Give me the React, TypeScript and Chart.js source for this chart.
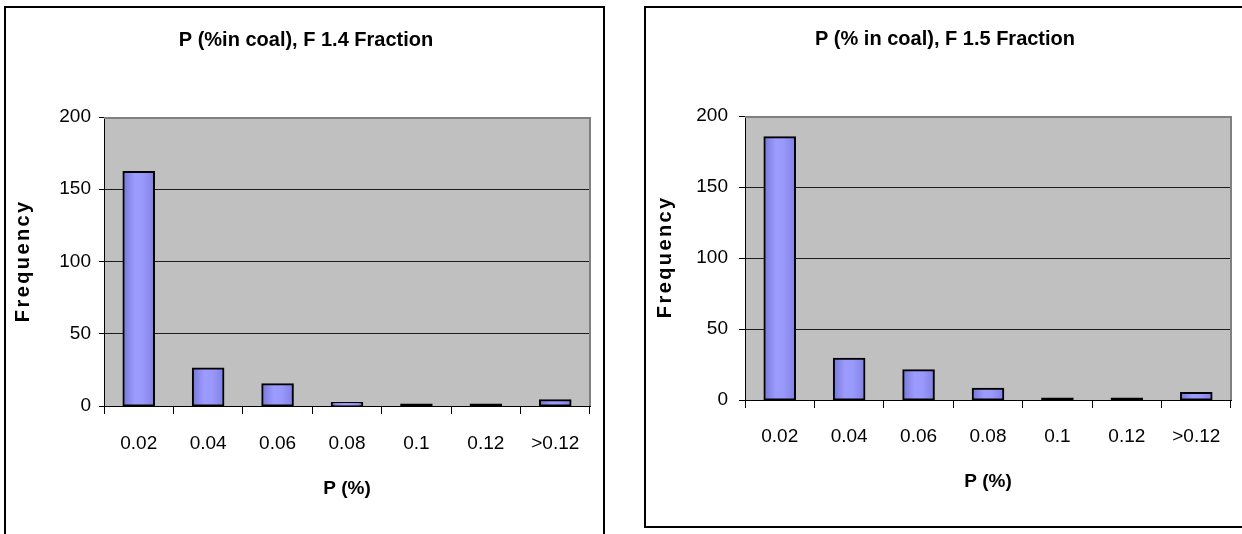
import React, { useEffect, useRef } from 'react';
import { Chart, registerables } from 'chart.js';

Chart.register(...registerables);

// Histogram bins (upper bounds of P %), shared by both fractions
const categories = ['0.02', '0.04', '0.06', '0.08', '0.1', '0.12', '>0.12'];
// Frequency axis ticks
const yTicks = [0, 50, 100, 150, 200];
// Counts per bin
const freqF14 = [162, 26, 15, 2, 1, 1, 4];
const freqF15 = [185, 29, 21, 8, 1, 1, 5];

const titleF14 = 'P (%in coal), F 1.4 Fraction';
const titleF15 = 'P (% in coal), F 1.5 Fraction';
const xTitle = 'P (%)';
const yTitle = 'Frequency';

const FAMILY = "'Liberation Sans', Arial, Helvetica, sans-serif";
const BAR_PCT = 0.44;

type Panel = {
  key: string;
  left: number;
  top: number;
  width: number;
  height: number;
  values: number[];
  title: string;
  area: { left: number; top: number; right: number; bottom: number };
  titleX: number;
  titleY: number;
  titleSpacing: number;
  yTitleX: number;
  yTitleY: number;
  yTickPad: number;
  yTickLen: number;
  xTickPad: number;
  xTitlePad: number;
};

const panels: Panel[] = [
  {
    key: 'f14',
    left: 4,
    top: 6,
    width: 601,
    height: 528,
    values: freqF14,
    title: titleF14,
    area: { left: 100, top: 111, right: 586, bottom: 400 },
    titleX: 302,
    titleY: 34,
    titleSpacing: 0,
    yTitleX: 19,
    yTitleY: 256,
    yTickPad: 8,
    yTickLen: 5,
    xTickPad: 18.5,
    xTitlePad: 34,
  },
  {
    key: 'f15',
    left: 644,
    top: 6,
    width: 598,
    height: 522,
    values: freqF15,
    title: titleF15,
    area: { left: 101, top: 110, right: 587, bottom: 394 },
    titleX: 301,
    titleY: 33.5,
    titleSpacing: 0,
    yTitleX: 21,
    yTitleY: 252,
    yTickPad: 11,
    yTickLen: 6,
    xTickPad: 17,
    xTitlePad: 35,
  },
];

// Horizontal shading across each bar, darker at the edges; bars thinner than
// their outline show as solid outline colour
const barFill = (c: any) => {
  const solid = '#9999ff';
  if (c.type !== 'data') return solid;
  const xs = c.chart.scales && c.chart.scales.x;
  const ys = c.chart.scales && c.chart.scales.y;
  if (!xs || !ys) return solid;
  const hPx = Math.abs(ys.getPixelForValue(c.raw) - ys.getPixelForValue(0));
  if (isFinite(hPx) && hPx < 2.5) return '#000';
  const center = xs.getPixelForValue(c.dataIndex);
  const half = ((xs.right - xs.left) / categories.length) * BAR_PCT / 2 + 1;
  if (!isFinite(center) || !isFinite(half) || half <= 0) return solid;
  const g = c.chart.ctx.createLinearGradient(center - half, 0, center + half, 0);
  g.addColorStop(0, '#7676d6');
  g.addColorStop(0.38, '#9c9cff');
  g.addColorStop(0.62, '#9999fc');
  g.addColorStop(1, '#8080e2');
  return g;
};

// Silver plot area with a grey frame on the top and right edges
const plotFrame = {
  id: 'plotFrame',
  beforeDraw(chart: any) {
    const { ctx, chartArea: a } = chart;
    ctx.save();
    ctx.fillStyle = '#c0c0c0';
    ctx.fillRect(a.left, a.top, a.right - a.left, a.bottom - a.top);
    ctx.restore();
  },
  afterDraw(chart: any) {
    const { ctx, chartArea: a } = chart;
    ctx.save();
    ctx.strokeStyle = '#808080';
    ctx.lineWidth = 2;
    ctx.beginPath();
    ctx.moveTo(a.left, a.top + 1);
    ctx.lineTo(a.right, a.top + 1);
    ctx.lineTo(a.right, a.bottom);
    ctx.stroke();
    ctx.restore();
  },
};

// Chart heading and the spaced-out vertical axis caption
const panelText = {
  id: 'panelText',
  afterDraw(chart: any, _args: any, o: any) {
    const ctx = chart.ctx;
    ctx.save();
    ctx.fillStyle = '#000';
    ctx.textAlign = 'center';
    ctx.textBaseline = 'middle';
    ctx.font = `bold 20px ${FAMILY}`;
    (ctx as any).letterSpacing = `${o.titleSpacing}px`;
    ctx.fillText(o.title, o.titleX, o.titleY);
    ctx.translate(o.yTitleX, o.yTitleY);
    ctx.rotate(-Math.PI / 2);
    ctx.font = `bold 20px ${FAMILY}`;
    (ctx as any).letterSpacing = '2.4px';
    ctx.fillText(o.yTitle, 1.2, 0);
    ctx.restore();
  },
};

function HistogramPanel({ cfg }: { cfg: Panel }) {
  const ref = useRef<HTMLCanvasElement | null>(null);

  useEffect(() => {
    const canvas = ref.current;
    if (!canvas) return;
    const chart = new Chart(canvas, {
      type: 'bar',
      data: {
        labels: categories,
        datasets: [
          {
            data: cfg.values,
            backgroundColor: barFill,
            borderColor: '#000',
            borderWidth: 2,
            borderSkipped: false,
            inflateAmount: 1,
            barPercentage: BAR_PCT,
            categoryPercentage: 1,
          } as any,
        ],
      },
      options: {
        responsive: false,
        animation: false,
        devicePixelRatio: 1,
        events: [],
        layout: {
          padding: { top: cfg.area.top, left: 0, right: cfg.width - cfg.area.right, bottom: 0 },
        },
        plugins: {
          legend: { display: false },
          tooltip: { enabled: false },
          title: { display: false },
          panelText: {
            title: cfg.title,
            titleX: cfg.titleX,
            titleY: cfg.titleY,
            titleSpacing: cfg.titleSpacing,
            yTitle,
            yTitleX: cfg.yTitleX,
            yTitleY: cfg.yTitleY,
          },
        } as any,
        scales: {
          x: {
            type: 'category',
            offset: true,
            grid: {
              offset: true,
              drawOnChartArea: false,
              drawTicks: true,
              tickLength: 8,
              tickColor: '#000',
              lineWidth: 1,
            },
            border: { display: true, color: '#000', width: 1 },
            ticks: {
              color: '#000',
              font: { family: FAMILY, size: 19 },
              padding: cfg.xTickPad,
              maxRotation: 0,
              autoSkip: false,
            },
            title: {
              display: true,
              text: xTitle,
              color: '#000',
              font: { family: FAMILY, size: 19, weight: 'bold' },
              padding: { top: 0, bottom: cfg.xTitlePad },
            },
            afterFit: (s: any) => {
              s.height = cfg.height - cfg.area.bottom;
            },
          },
          y: {
            min: yTicks[0],
            max: yTicks[yTicks.length - 1],
            afterBuildTicks: (s: any) => {
              s.ticks = yTicks.map((v) => ({ value: v }));
            },
            ticks: {
              color: '#000',
              font: { family: FAMILY, size: 19 },
              padding: cfg.yTickPad,
            },
            grid: {
              color: (c: any) =>
                c.tick && c.tick.value === yTicks[yTicks.length - 1] ? 'rgba(0,0,0,0)' : '#1c1c1c',
              lineWidth: 1,
              tickLength: cfg.yTickLen,
              tickColor: '#000',
            },
            border: { display: true, color: '#000', width: 1 },
            afterFit: (s: any) => {
              s.width = cfg.area.left;
            },
          },
        } as any,
      },
      plugins: [plotFrame, panelText],
    });
    return () => chart.destroy();
  }, [cfg]);

  return (
    <>
      <canvas
        ref={ref}
        width={cfg.width}
        height={cfg.height}
        style={{
          position: 'absolute',
          left: cfg.left,
          top: cfg.top,
          width: cfg.width,
          height: cfg.height,
          display: 'block',
        }}
      />
      <div
        style={{
          position: 'absolute',
          left: cfg.left,
          top: cfg.top,
          width: cfg.key === 'f14' ? cfg.width : cfg.width + 20,
          height: cfg.key === 'f14' ? cfg.height + 20 : cfg.height,
          border: '2px solid #000',
          boxSizing: 'border-box',
          pointerEvents: 'none',
        }}
      />
    </>
  );
}

export default function App() {
  return (
    <div
      style={{
        position: 'absolute',
        left: 0,
        top: 0,
        width: 1242,
        height: 534,
        overflow: 'hidden',
        background: '#fff',
      }}
    >
      {panels.map((p) => (
        <HistogramPanel key={p.key} cfg={p} />
      ))}
    </div>
  );
}
